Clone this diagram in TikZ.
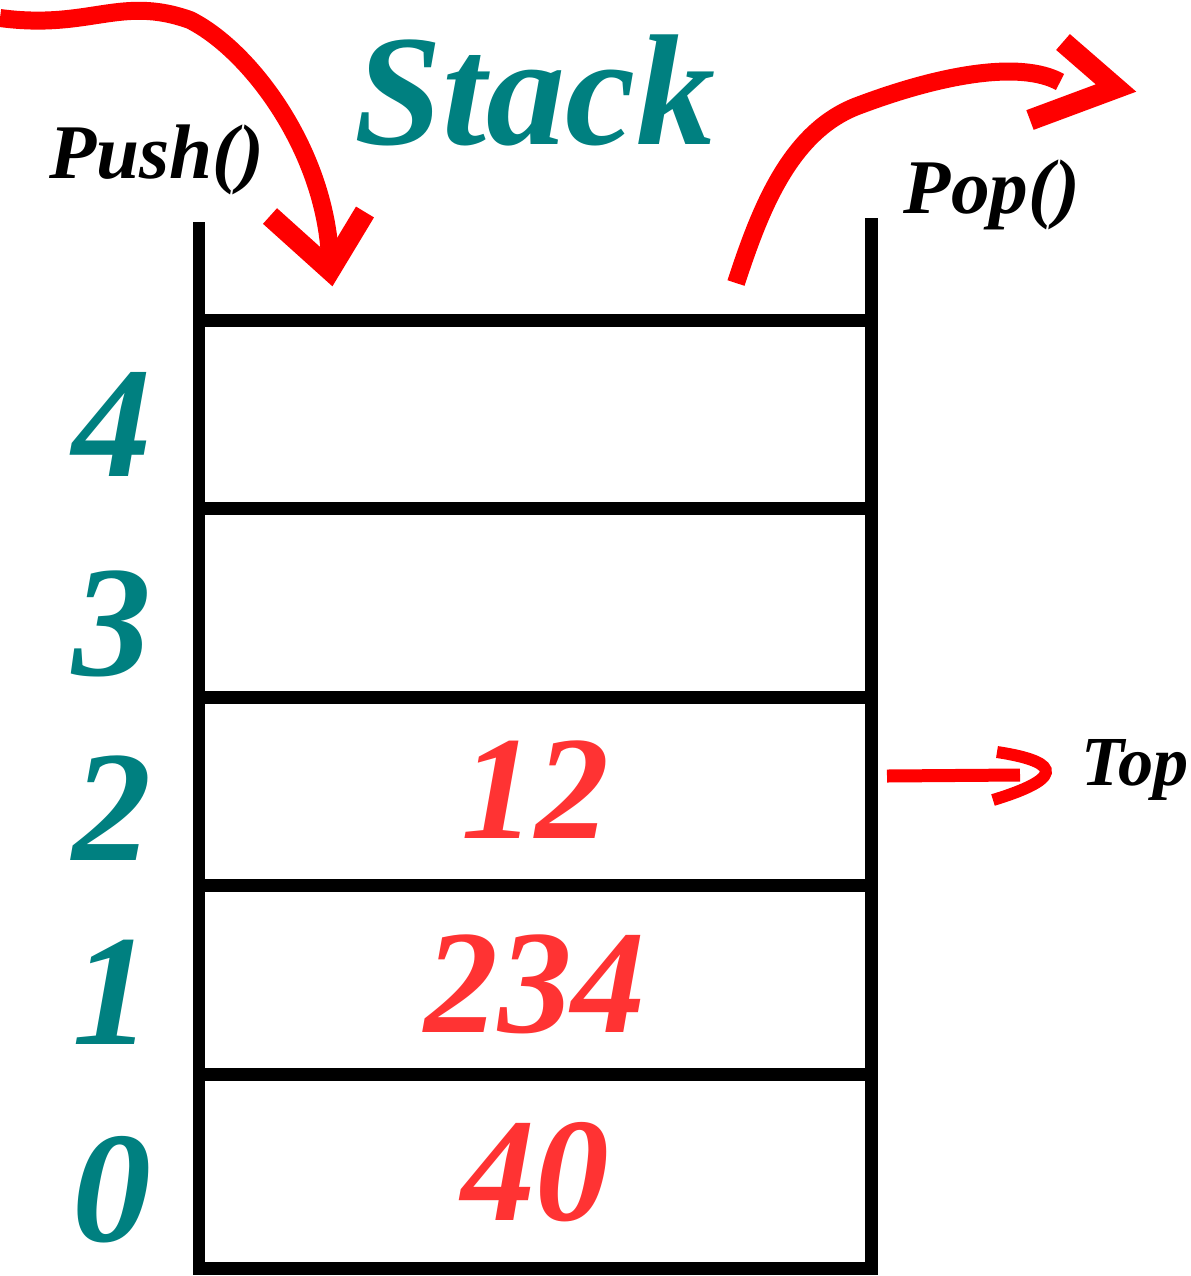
\documentclass[tikz,border=0pt]{standalone}
\usepackage{fontspec}
\usepackage{tikz}
\newfontfamily\handfont{Liberation Serif}
\definecolor{stackteal}{RGB}{0,128,128}
\definecolor{valred}{RGB}{255,51,51}
\tikzset{
  wall/.style={line width=0.26cm},
  brush/.style={draw=red, line width=0.36cm},
  idx/.style={text=stackteal, font=\handfont\fontsize{90}{90}\selectfont\bfseries\itshape},
  val/.style={text=valred, font=\handfont\fontsize{84}{84}\selectfont\bfseries\itshape},
  title/.style={text=stackteal, font=\handfont\fontsize{90}{90}\selectfont\bfseries\itshape},
  op/.style={font=\handfont\fontsize{44}{44}\selectfont\bfseries\itshape}
}
\begin{document}
\begin{tikzpicture}[x=0.02cm,y=-0.02cm]
\useasboundingbox (0,0) rectangle (1191,1276);
\coordinate (lt) at (199,222);
\coordinate (lb) at (199,1268);
\coordinate (rt) at (871,218);
\coordinate (rb) at (871,1268);
\draw[wall] (lt) -- (lb) -- (rb) -- (rt);
\foreach \y in {320,508,697,885,1074}
  \draw[wall] (199,\y) -- (871,\y);
\foreach \i/\y in {4/424,3/624,2/808,1/992,0/1190}
  \node[idx] (idx\i) at (112,\y) {\i};
\node[val] (val2) at (535,790) {12};
\node[val] (val1) at (535,984) {234};
\node[val] (val0) at (535,1172) {40};
\node[title] (title) at (535,90) {Stack};
\node[op] (push) at (157,160) {Push()};
\node[op] (pop) at (992,195) {Pop()};
\node[op, font=\handfont\fontsize{40}{40}\selectfont\bfseries\itshape] (top) at (1135,770) {Top};
% push arrow
\coordinate (pushA) at (0,18);
\coordinate (pushB) at (330,258);
\draw[brush] (pushA) .. controls (90,30) and (120,-5) .. (190,20)
  .. controls (250,50) and (325,150) .. (pushB);
\draw[brush, line width=0.42cm] (270,216) -- (330,270) -- (365,212);
% pop arrow
\coordinate (popA) at (736,283);
\coordinate (popB) at (1060,82);
\draw[brush] (popA) .. controls (760,210) and (790,130) .. (860,105)
  .. controls (940,75) and (1020,60) .. (popB);
\draw[brush, line width=0.42cm] (1063,42) -- (1116,88) -- (1030,120);
% top arrow
\coordinate (topA) at (887,776);
\coordinate (topB) at (1020,775);
\draw[brush, line width=0.26cm] (topA) -- (topB);
\draw[brush, line width=0.24cm] (997,752) .. controls (1050,760) and (1075,775) .. (993,800);
\end{tikzpicture}
\end{document}
